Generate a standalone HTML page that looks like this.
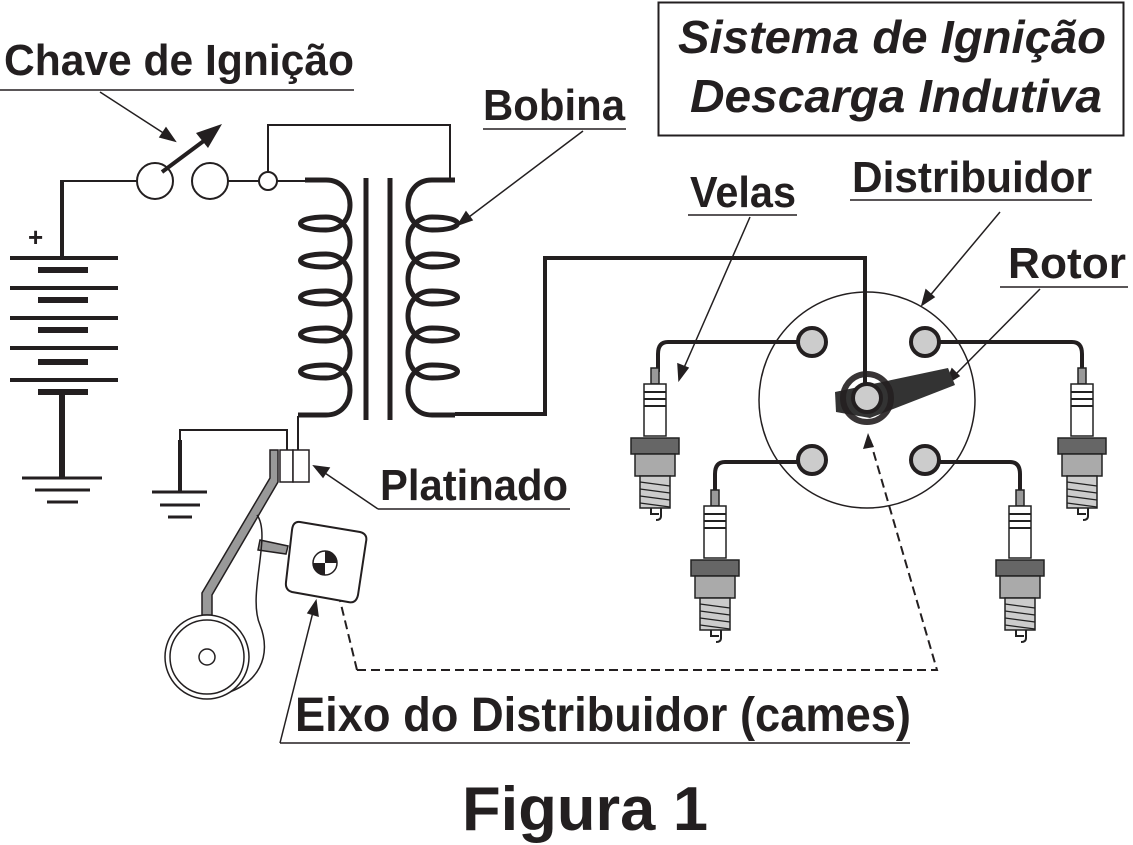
<!DOCTYPE html>
<html><head><meta charset="utf-8"><style>html,body{margin:0;padding:0;background:#fff}svg{display:block}text{font-family:"Liberation Sans",sans-serif;font-weight:bold;fill:#231f20}</style></head><body>
<svg width="1133" height="845" viewBox="0 0 1133 845" xmlns="http://www.w3.org/2000/svg">
<defs>
<g id="plug">
<rect x="-4" y="0" width="8" height="16" fill="#999" stroke="#222" stroke-width="1.5"/>
<rect x="-11" y="16" width="22" height="52" fill="#fff" stroke="#222" stroke-width="1.5"/>
<line x1="-11" y1="24" x2="11" y2="24" stroke="#222" stroke-width="2"/>
<line x1="-11" y1="31" x2="11" y2="31" stroke="#222" stroke-width="2"/>
<line x1="-11" y1="38" x2="11" y2="38" stroke="#222" stroke-width="2"/>
<rect x="-24" y="70" width="48" height="16" fill="#666" stroke="#222" stroke-width="1.5"/>
<rect x="-20" y="86" width="40" height="22" fill="#aaa" stroke="#222" stroke-width="1.5"/>
<rect x="-15" y="108" width="30" height="32" fill="#ccc" stroke="#222" stroke-width="1.5"/>
<path d="M-15 114 L15 118 M-15 121 L15 125 M-15 128 L15 132 M-15 135 L15 139" stroke="#222" stroke-width="1.2"/>
<path d="M-4 140 v6 h8 M6 140 v8 q0 4 -5 4" fill="none" stroke="#222" stroke-width="2"/>
</g>
</defs>
<rect x="658.5" y="2.5" width="465" height="133" fill="none" stroke="#231f20" stroke-width="2"/>
<text x="678" y="53" font-size="46" font-style="italic" textLength="428" lengthAdjust="spacingAndGlyphs">Sistema de Ignição</text>
<text x="690" y="112" font-size="46" font-style="italic" textLength="412" lengthAdjust="spacingAndGlyphs">Descarga Indutiva</text>
<text x="4" y="75" font-size="44" textLength="350" lengthAdjust="spacingAndGlyphs">Chave de Ignição</text>
<line x1="0" y1="90" x2="354" y2="90" stroke="#231f20" stroke-width="1.5"/>
<text x="483" y="120" font-size="44" textLength="142" lengthAdjust="spacingAndGlyphs">Bobina</text>
<line x1="483" y1="129" x2="626" y2="129" stroke="#231f20" stroke-width="1.5"/>
<text x="690" y="207" font-size="44" textLength="106" lengthAdjust="spacingAndGlyphs">Velas</text>
<line x1="688" y1="215" x2="797" y2="215" stroke="#231f20" stroke-width="1.5"/>
<text x="852" y="192" font-size="44" textLength="240" lengthAdjust="spacingAndGlyphs">Distribuidor</text>
<line x1="850" y1="200" x2="1092" y2="200" stroke="#231f20" stroke-width="1.5"/>
<text x="1008" y="278" font-size="44" textLength="118" lengthAdjust="spacingAndGlyphs">Rotor</text>
<line x1="1000" y1="287" x2="1128" y2="287" stroke="#231f20" stroke-width="1.5"/>
<text x="380" y="500" font-size="44" textLength="188" lengthAdjust="spacingAndGlyphs">Platinado</text>
<line x1="378" y1="509" x2="570" y2="509" stroke="#231f20" stroke-width="1.5"/>
<text x="295" y="731" font-size="48" textLength="616" lengthAdjust="spacingAndGlyphs">Eixo do Distribuidor (cames)</text>
<line x1="280" y1="743" x2="910" y2="743" stroke="#231f20" stroke-width="1.5"/>
<text x="585" y="830" font-size="62" text-anchor="middle" textLength="246" lengthAdjust="spacingAndGlyphs">Figura 1</text>
<g stroke="#231f20" stroke-width="1.5" fill="#231f20">
<line x1="100" y1="92" x2="168" y2="136"/><polygon points="175,141 160,137 166,128"/>
<line x1="583" y1="131" x2="465" y2="220"/><polygon points="458,225 466,212 472,220"/>
<line x1="750" y1="217" x2="683" y2="370"/><polygon points="679,380 678,364 688,368"/>
<line x1="1000" y1="212" x2="928" y2="298"/><polygon points="922,305 926,290 934,297"/>
<line x1="1040" y1="289" x2="953" y2="377"/><polygon points="946,384 952,369 959,376"/>
<line x1="378" y1="509" x2="322" y2="471"/><polygon points="314,466 329,468 323,477"/>
<line x1="280" y1="743" x2="313" y2="612"/><polygon points="316,601 318,616 308,613"/>
</g>
<path d="M357 670 L937 670 L870 440" fill="none" stroke="#231f20" stroke-width="2" stroke-dasharray="9,5"/>
<path d="M357 670 L338 592" fill="none" stroke="#231f20" stroke-width="2" stroke-dasharray="9,5"/>
<polygon points="335,583 332,599 342,597" fill="#231f20"/>
<polygon points="868,433 863,449 874,447" fill="#231f20"/>
<text x="28" y="246" font-size="26">+</text>
<g stroke="#231f20">
<line x1="62" y1="180" x2="62" y2="258" stroke-width="4"/>
<line x1="62" y1="392" x2="62" y2="478" stroke-width="6"/>
<g stroke-width="4"><line x1="10" y1="258" x2="118" y2="258"/><line x1="10" y1="288" x2="118" y2="288"/><line x1="10" y1="318" x2="118" y2="318"/><line x1="10" y1="348" x2="118" y2="348"/><line x1="10" y1="380" x2="118" y2="380"/></g>
<g stroke-width="6"><line x1="38" y1="270" x2="88" y2="270"/><line x1="38" y1="300" x2="88" y2="300"/><line x1="38" y1="330" x2="88" y2="330"/><line x1="38" y1="362" x2="88" y2="362"/><line x1="38" y1="392" x2="88" y2="392"/></g>
<g stroke-width="3"><line x1="22" y1="478" x2="102" y2="478"/><line x1="35" y1="490" x2="90" y2="490"/><line x1="47" y1="502" x2="78" y2="502"/></g>
</g>
<g fill="none" stroke="#231f20" stroke-width="2">
<line x1="62" y1="181" x2="137" y2="181"/>
<circle cx="155" cy="181" r="18"/><circle cx="210" cy="181" r="18"/>
<line x1="228" y1="181" x2="259" y2="181"/>
<circle cx="268" cy="181" r="9"/>
<line x1="277" y1="181" x2="305" y2="181"/>
<path d="M268 172 V125 H450 V180"/>
<path d="M180 490 V430 H287 V452 M298 452 V416"/>
</g>
<line x1="162" y1="172" x2="205" y2="140" stroke="#231f20" stroke-width="4"/>
<polygon points="222,124 196,133 208,148" fill="#231f20"/>
<g stroke="#231f20" stroke-width="3"><line x1="180" y1="440" x2="180" y2="492" stroke-width="4"/><line x1="152" y1="492" x2="207" y2="492"/><line x1="160" y1="505" x2="200" y2="505"/><line x1="168" y1="517" x2="192" y2="517"/></g>
<g fill="none" stroke="#231f20" stroke-width="5">
<path d="M305 180 H326 c32 0 32 50 0 50 c-34 0 -34 -13 0 -13 c32 0 32 50 0 50 c-34 0 -34 -13 0 -13 c32 0 32 50 0 50 c-34 0 -34 -13 0 -13 c32 0 32 50 0 50 c-34 0 -34 -13 0 -13 c32 0 32 50 0 50 c-34 0 -34 -13 0 -13 c32 0 32 50 0 50 H298"/>
<path d="M455 180 H432 c-32 0 -32 50 0 50 c34 0 34 -13 0 -13 c-32 0 -32 50 0 50 c34 0 34 -13 0 -13 c-32 0 -32 50 0 50 c34 0 34 -13 0 -13 c-32 0 -32 50 0 50 c34 0 34 -13 0 -13 c-32 0 -32 50 0 50 c34 0 34 -13 0 -13 c-32 0 -32 50 0 50 H455"/>
<line x1="366" y1="178" x2="366" y2="420"/><line x1="390" y1="178" x2="390" y2="420"/>
<path d="M455 414 H545 V258 H865 V398" stroke-width="4"/>
</g>
<circle cx="867" cy="400" r="108" fill="none" stroke="#231f20" stroke-width="1.5"/>
<g fill="none" stroke="#231f20" stroke-width="4">
<path d="M798 342 H668 q-10 0 -10 12 V372"/>
<path d="M940 342 H1072 q10 0 10 12 V372"/>
<path d="M798 462 H725 q-10 0 -10 12 V492"/>
<path d="M940 462 H1010 q10 0 10 12 V492"/>
</g>
<use href="#plug" x="655" y="368"/><use href="#plug" x="1082" y="368"/>
<use href="#plug" x="715" y="490"/><use href="#plug" x="1020" y="490"/>
<polygon points="835,392 948,368 955,385 870,418 836,412" fill="#333"/>
<g fill="#ccc" stroke="#231f20" stroke-width="4">
<circle cx="812" cy="342" r="14"/><circle cx="925" cy="342" r="14"/><circle cx="812" cy="460" r="14"/><circle cx="925" cy="460" r="14"/>
<circle cx="867" cy="398" r="14"/>
</g>
<circle cx="867" cy="398" r="24" fill="none" stroke="#231f20" stroke-width="6" opacity="0.9"/>
<rect x="280" y="450" width="13" height="32" fill="#fff" stroke="#231f20" stroke-width="1.5"/>
<rect x="293" y="450" width="16" height="32" fill="#fff" stroke="#231f20" stroke-width="1.5"/>
<path d="M270 450 H278 V482 L212 595 L212 615 H202 V593 L270 478 Z" fill="#999" stroke="#231f20" stroke-width="1.5"/>
<path d="M260 540 L288 546 L286 554 L258 550 Z" fill="#999" stroke="#231f20" stroke-width="1.5"/>
<path d="M257 515 c15 20 -10 80 3 110 c12 30 0 60 -40 70" fill="none" stroke="#231f20" stroke-width="1.5"/>
<circle cx="207" cy="657" r="42" fill="#fff" stroke="#231f20" stroke-width="1.5"/>
<circle cx="207" cy="657" r="37" fill="none" stroke="#231f20" stroke-width="1.5"/>
<circle cx="207" cy="657" r="8" fill="#fff" stroke="#231f20" stroke-width="1.5"/>
<path d="M300 522 L360 532 Q368 534 366 542 L358 595 Q356 604 348 602 L292 592 Q285 590 286 582 L292 530 Q293 521 300 522 Z" fill="#fff" stroke="#231f20" stroke-width="2"/>
<circle cx="325" cy="563" r="12" fill="#fff" stroke="#231f20" stroke-width="1.5"/>
<path d="M325 563 L325 551 A12 12 0 0 1 337 563 Z M325 563 L325 575 A12 12 0 0 1 313 563 Z" fill="#231f20"/>
</svg>
</body></html>
